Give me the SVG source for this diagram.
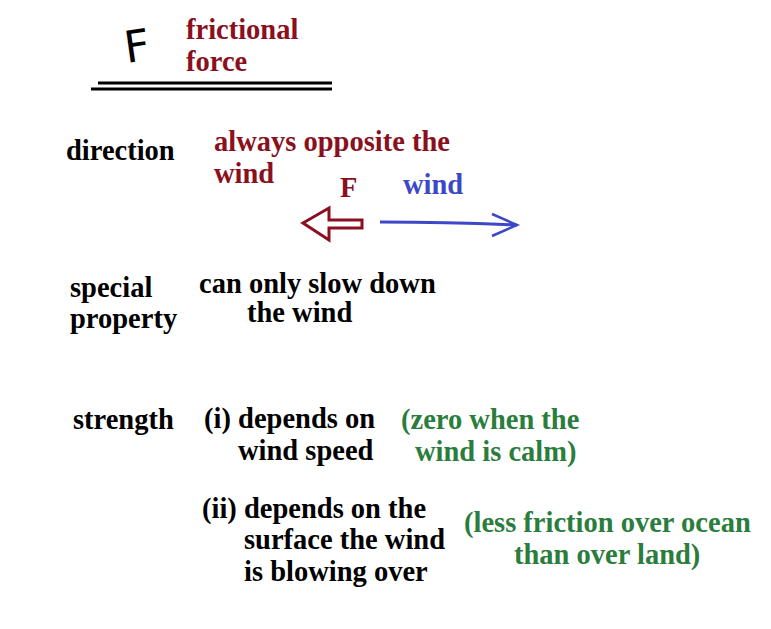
<svg xmlns="http://www.w3.org/2000/svg" width="771" height="629" viewBox="0 0 771 629">
<style>
text{font-family:"Liberation Serif","Times New Roman",serif;font-weight:bold;font-size:28.5px}
.k{fill:#000}
.r{fill:#8a1020}
.b{fill:#3c48c8}
.g{fill:#2a7d3c}
</style>
<rect width="771" height="629" fill="#fff"/>
<g id="title">
<text x="124" y="61" style="font-family:'DejaVu Sans',sans-serif;font-weight:normal;font-size:44px" transform="rotate(-8 140 45)" class="k">F</text>
<text x="186" y="39" class="r">frictional</text>
<text x="186" y="71" class="r">force</text>
<line x1="98" y1="83" x2="332" y2="83" stroke="#000" stroke-width="3"/>
<line x1="91" y1="89" x2="332" y2="89" stroke="#000" stroke-width="3"/>
</g>
<g id="direction">
<text x="66" y="160" class="k">direction</text>
<text x="214" y="151" class="r">always opposite the</text>
<text x="214" y="183" class="r">wind</text>
<text x="340" y="197" class="r">F</text>
<text x="403" y="194" class="b">wind</text>
</g>
<g id="connectors">
<path d="M303,223 L329,208 L329,220 L362,220 L362,228 L329,228 L329,240 Z" fill="none" stroke="#8a1020" stroke-width="3" stroke-linejoin="miter"/>
<path d="M380,222 Q450,222 517,225" fill="none" stroke="#3c48c8" stroke-width="3"/>
<path d="M492,214 L517,225 L492,236" fill="none" stroke="#3c48c8" stroke-width="2.5"/>
</g>
<g id="special">
<text x="70" y="297" class="k">special</text>
<text x="70" y="328" class="k">property</text>
<text x="199" y="293" class="k">can only slow down</text>
<text x="247" y="322" class="k">the wind</text>
</g>
<g id="strength">
<text x="73" y="429" class="k">strength</text>
<text x="204" y="428" class="k">(i) depends on</text>
<text x="238" y="460" class="k">wind speed</text>
<text x="401" y="429" class="g">(zero when the</text>
<text x="415" y="461" class="g">wind is calm)</text>
<text x="202" y="518" class="k">(ii) depends on the</text>
<text x="244" y="549" class="k">surface the wind</text>
<text x="244" y="581" class="k">is blowing over</text>
<text x="464" y="532" class="g">(less friction over ocean</text>
<text x="514" y="564" class="g">than over land)</text>
</g>
</svg>
